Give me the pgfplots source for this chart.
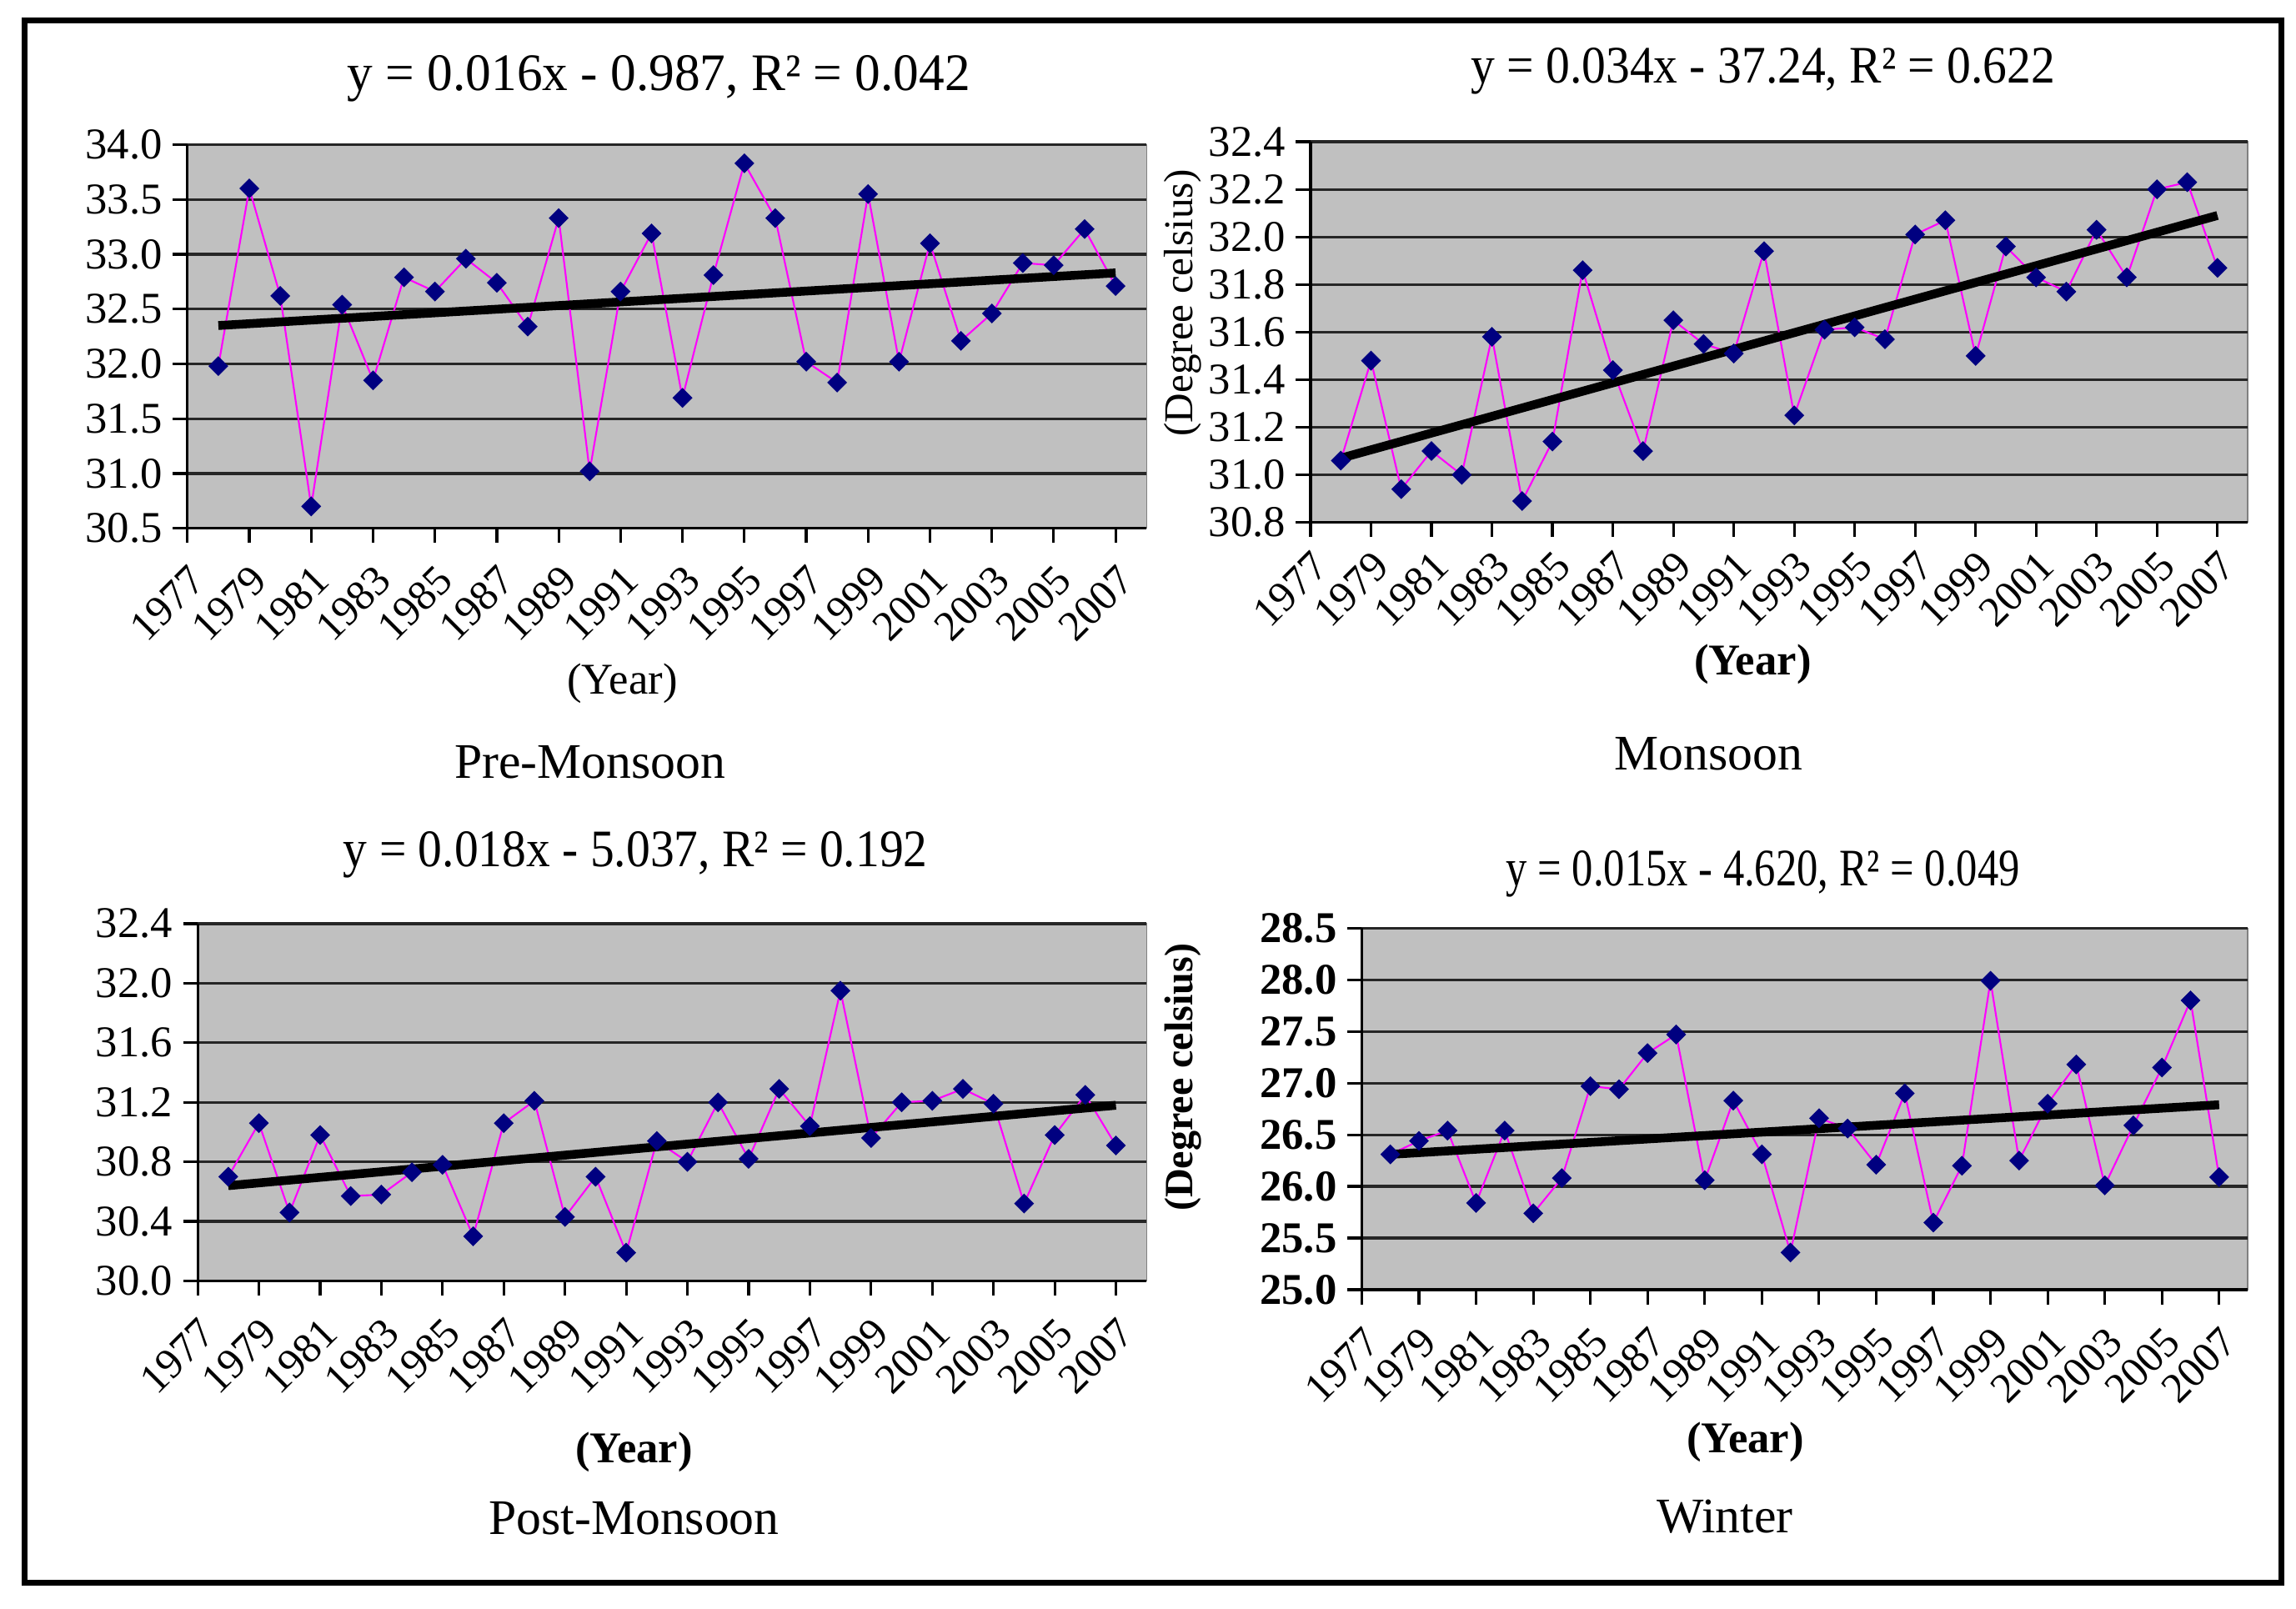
\documentclass[border=0pt]{standalone}
\usepackage{fontspec}
\setmainfont{Liberation Serif}
\usepackage{graphicx}
\usepackage{pgfplots}
\pgfplotsset{compat=1.18}

\definecolor{plotgray}{RGB}{192,192,192}
\definecolor{navyblue}{RGB}{0,0,128}
\definecolor{linemag}{RGB}{255,0,255}

\newcommand{\lblfont}{\fontsize{15}{17}\selectfont}
\newcommand{\capfont}{\fontsize{17}{19}\selectfont}
% titles are squeezed sideways in the original
\newcommand{\eqn}[2]{\scalebox{#1}[1]{\fontsize{18}{20}\selectfont #2}}

\pgfplotsset{
  season/.style={
    scale only axis,
    anchor=south west,
    xmin=1977, xmax=2008,
    xtick={1977,1979,...,2007},
    axis background/.style={fill=plotgray, draw=gray},
    axis x line*=bottom, axis y line*=left,
    axis line style={black, line width=0.9pt, -},
    tick align=outside,
    major tick length=5pt,
    tick style={black, line width=0.9pt},
    ymajorgrids,
    major grid style={black!85, line width=0.9pt},
    /pgf/number format/assume math mode=true,
    xticklabel shift=6pt,
    xticklabel style={rotate=45, anchor=north east, inner sep=0.5pt,
      font=\fontsize{14.5}{16}\selectfont,
      /pgf/number format/1000 sep={}},
    yticklabel style={/pgf/number format/fixed,
      /pgf/number format/fixed zerofill,
      /pgf/number format/precision=1},
    yticklabel style={font=\fontsize{15}{16}\selectfont},
  },
  obs/.style={linemag, line width=0.6pt, mark=square*, mark size=2.1pt,
    mark options={rotate=45, fill=navyblue, draw=navyblue}},
  trend/.style={black, line width=3pt, no marks},
}

\begin{document}
\begin{tikzpicture}
\useasboundingbox (0,0) rectangle (784pt,549.4pt);
\draw[line width=2pt] (8.5pt,9pt) rectangle (779pt,542.5pt);

% Pre-Monsoon
\begin{axis}[season, at={(64pt,369pt)}, width=327.5pt, height=131pt,
  ymin=30.5, ymax=34, ytick={30.5,31.0,31.5,32.0,32.5,33.0,33.5,34.0}]
\addplot[obs] coordinates {
 (1978,31.98) (1979,33.60) (1980,32.62) (1981,30.70) (1982,32.54)
 (1983,31.85) (1984,32.79) (1985,32.66) (1986,32.96) (1987,32.74)
 (1988,32.34) (1989,33.33) (1990,31.02) (1991,32.66) (1992,33.19)
 (1993,31.69) (1994,32.81) (1995,33.83) (1996,33.33) (1997,32.02)
 (1998,31.83) (1999,33.55) (2000,32.02) (2001,33.10) (2002,32.21)
 (2003,32.46) (2004,32.92) (2005,32.90) (2006,33.23) (2007,32.71)};
\addplot[trend] coordinates {(1978,32.35) (2007,32.83)};
\end{axis}

% Monsoon
\begin{axis}[season, at={(447.5pt,371pt)}, width=320pt, height=130pt,
  xticklabel shift=3pt,
  ymin=30.8, ymax=32.4, ytick={30.8,31.0,31.2,31.4,31.6,31.8,32.0,32.2,32.4}]
\addplot[obs] coordinates {
 (1978,31.06) (1979,31.48) (1980,30.94) (1981,31.10) (1982,31.00)
 (1983,31.58) (1984,30.89) (1985,31.14) (1986,31.86) (1987,31.44)
 (1988,31.10) (1989,31.65) (1990,31.55) (1991,31.51) (1992,31.94)
 (1993,31.25) (1994,31.61) (1995,31.62) (1996,31.57) (1997,32.01)
 (1998,32.07) (1999,31.50) (2000,31.96) (2001,31.83) (2002,31.77)
 (2003,32.03) (2004,31.83) (2005,32.20) (2006,32.23) (2007,31.87)};
\addplot[trend] coordinates {(1978,31.07) (2007,32.09)};
\end{axis}

% Post-Monsoon
\begin{axis}[season, at={(67.5pt,112pt)}, width=324pt, height=122pt,
  ymin=30.0, ymax=32.4, ytick={30.0,30.4,30.8,31.2,31.6,32.0,32.4}]
\addplot[obs] coordinates {
 (1978,30.70) (1979,31.06) (1980,30.46) (1981,30.98) (1982,30.57)
 (1983,30.58) (1984,30.73) (1985,30.78) (1986,30.30) (1987,31.06)
 (1988,31.21) (1989,30.43) (1990,30.70) (1991,30.19) (1992,30.94)
 (1993,30.80) (1994,31.20) (1995,30.82) (1996,31.29) (1997,31.04)
 (1998,31.95) (1999,30.96) (2000,31.20) (2001,31.21) (2002,31.29)
 (2003,31.19) (2004,30.52) (2005,30.98) (2006,31.25) (2007,30.91)};
\addplot[trend] coordinates {(1978,30.64) (2007,31.18)};
\end{axis}

% Winter
\begin{axis}[season, at={(465pt,109pt)}, width=302.5pt, height=123.5pt,
  ymin=25.0, ymax=28.5, ytick={25.0,25.5,26.0,26.5,27.0,27.5,28.0,28.5},
  yticklabel style={font=\fontsize{15}{16}\selectfont\bfseries}]
\addplot[obs] coordinates {
 (1978,26.31) (1979,26.44) (1980,26.54) (1981,25.84) (1982,26.54)
 (1983,25.74) (1984,26.08) (1985,26.97) (1986,26.94) (1987,27.29)
 (1988,27.47) (1989,26.06) (1990,26.83) (1991,26.31) (1992,25.36)
 (1993,26.66) (1994,26.56) (1995,26.21) (1996,26.90) (1997,25.65)
 (1998,26.20) (1999,27.99) (2000,26.25) (2001,26.80) (2002,27.18)
 (2003,26.01) (2004,26.59) (2005,27.15) (2006,27.80) (2007,26.09)};
\addplot[trend] coordinates {(1978,26.31) (2007,26.79)};
\end{axis}

% titles and captions
\node at (225pt,522.5pt) {\eqn{0.97}{y = 0.016x - 0.987, R² = 0.042}};
\node at (602pt,525pt) {\eqn{0.91}{y = 0.034x - 37.24, R² = 0.622}};
\node at (217pt,257.5pt) {\eqn{0.91}{y = 0.018x - 5.037, R² = 0.192}};
\node at (602pt,251pt) {\eqn{0.80}{y = 0.015x - 4.620, R² = 0.049}};

\node[font=\lblfont] at (212.5pt,316pt) {(Year)};
\node[font=\lblfont\bfseries] at (598.5pt,322.5pt) {(Year)};
\node[font=\lblfont\bfseries] at (216.5pt,53.5pt) {(Year)};
\node[font=\lblfont\bfseries] at (596pt,57pt) {(Year)};

\node[font=\capfont] at (201.5pt,289pt) {Pre-Monsoon};
\node[font=\capfont] at (583.5pt,292pt) {Monsoon};
\node[font=\capfont] at (216.5pt,31pt) {Post-Monsoon};
\node[font=\capfont] at (589pt,31.5pt) {Winter};

\node[font=\fontsize{14}{16}\selectfont, rotate=90] at (404pt,446pt) {(Degree celsius)};
\node[font=\fontsize{13.7}{16}\selectfont\bfseries, rotate=90] at (404pt,181.5pt) {(Degree celsius)};
\end{tikzpicture}
\end{document}
